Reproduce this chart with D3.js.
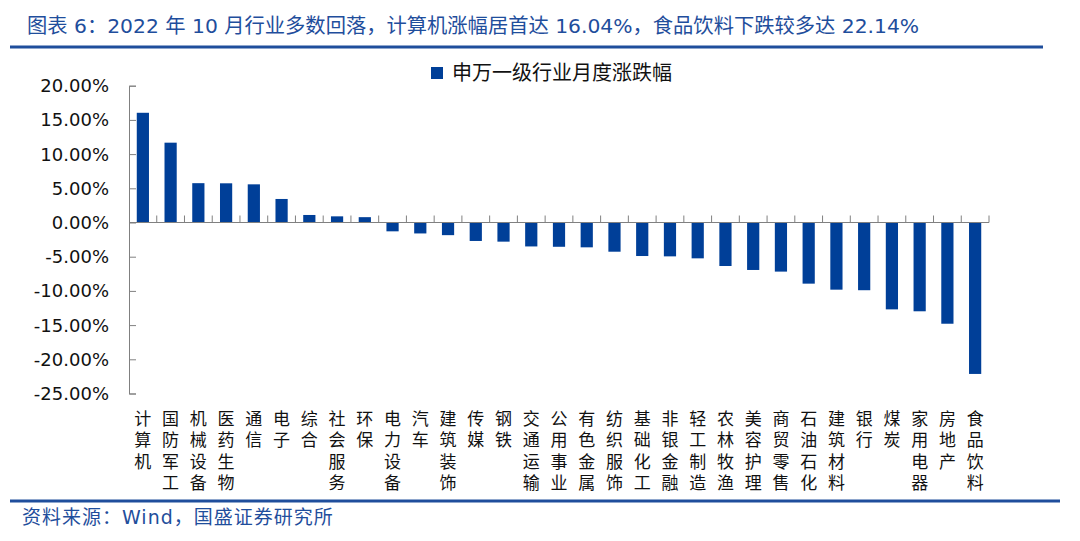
<!DOCTYPE html>
<html>
<head>
<meta charset="utf-8">
<script src="https://cdn.jsdelivr.net/npm/d3@7"></script>
<style>
  body { margin: 0; background: #fff; }
  svg { display: block; }
</style>
</head>
<body>
<div id="chart"></div>
<script>
// data
var categories = ["计算机", "国防军工", "机械设备", "医药生物", "通信", "电子", "综合", "社会服务", "环保",
  "电力设备", "汽车", "建筑装饰", "传媒", "钢铁", "交通运输", "公用事业", "有色金属", "纺织服饰",
  "基础化工", "非银金融", "轻工制造", "农林牧渔", "美容护理", "商贸零售", "石油石化", "建筑材料",
  "银行", "煤炭", "家用电器", "房地产", "食品饮料"];
var monthlyChange = [16.04, 11.67, 5.75, 5.73, 5.58, 3.44, 1.10, 0.90, 0.78,
  -1.29, -1.60, -1.85, -2.70, -2.80, -3.50, -3.55, -3.63, -4.27,
  -4.90, -4.95, -5.24, -6.36, -6.94, -7.18, -8.94, -9.82,
  -9.90, -12.70, -12.98, -14.80, -22.14];
var yTicks = [20, 15, 10, 5, 0, -5, -10, -15, -20, -25];

var titleText = "图表 6：2022 年 10 月行业多数回落，计算机涨幅居首达 16.04%，食品饮料下跌较多达 22.14%";
var legendText = "申万一级行业月度涨跌幅";
var sourceText = "资料来源：Wind，国盛证券研究所";

var svgWidth = 1080;
var svgHeight = 541;
var blue = "#1f4e9c";
var barColor = "#003f98";
var cjk = "'Noto Sans CJK SC', sans-serif";
var latin = "'DejaVu Sans', Verdana, sans-serif";

var svg = d3.select("#chart")
  .append("svg")
  .attr("width", svgWidth)
  .attr("height", svgHeight);

// title + rules
svg.append("text")
  .attr("x", 27)
  .attr("y", 33)
  .attr("fill", blue)
  .attr("font-family", latin + ", " + cjk)
  .attr("font-size", "20.3px")
  .text(titleText);

svg.append("line")
  .attr("x1", 10).attr("x2", 1043)
  .attr("y1", 47).attr("y2", 47)
  .attr("stroke", blue).attr("stroke-width", 3);

svg.append("line")
  .attr("x1", 10).attr("x2", 1060)
  .attr("y1", 501).attr("y2", 501)
  .attr("stroke", blue).attr("stroke-width", 3);

svg.append("text")
  .attr("x", 22)
  .attr("y", 524)
  .attr("fill", blue)
  .attr("font-family", latin + ", " + cjk)
  .attr("font-size", "19px")
  .attr("letter-spacing", "1px")
  .text(sourceText);

// scales
var x = d3.scaleBand()
  .domain(categories)
  .range([129, 989])
  .paddingInner(0.56)
  .paddingOuter(0.28);

var y = d3.scaleLinear()
  .domain([-25, 20])
  .range([393.5, 85.7]);

// y axis, ticks pointing into the plot
var yAxis = svg.append("g")
  .attr("transform", "translate(129,0)")
  .call(d3.axisRight(y).tickValues(yTicks).tickSize(7).tickFormat(""));
yAxis.select(".domain").attr("stroke", "#808080");
yAxis.selectAll(".tick line").attr("stroke", "#808080");

svg.append("g").selectAll("text")
  .data(yTicks)
  .enter()
  .append("text")
  .attr("x", 109)
  .attr("y", d => y(d))
  .attr("dy", "0.36em")
  .attr("text-anchor", "end")
  .attr("font-family", latin)
  .attr("font-size", "18px")
  .attr("fill", "#111")
  .text(d => d.toFixed(2) + "%");

// bars
svg.append("g").selectAll("rect")
  .data(monthlyChange)
  .enter()
  .append("rect")
  .attr("x", (d, i) => x(categories[i]))
  .attr("width", x.bandwidth())
  .attr("y", d => Math.min(y(d), y(0)))
  .attr("height", d => Math.abs(y(d) - y(0)))
  .attr("fill", barColor);

// x axis at zero with upward ticks at category boundaries
var xAxisG = svg.append("g");
xAxisG.append("line")
  .attr("x1", 129).attr("x2", 989)
  .attr("y1", y(0)).attr("y2", y(0))
  .attr("stroke", "#808080");
xAxisG.selectAll(".xt")
  .data(categories)
  .enter()
  .append("line")
  .attr("x1", d => x(d) + x.bandwidth() / 2 + x.step() / 2)
  .attr("x2", d => x(d) + x.bandwidth() / 2 + x.step() / 2)
  .attr("y1", y(0))
  .attr("y2", y(0) - 7)
  .attr("stroke", "#808080");

// vertical category labels, one char per line
svg.append("g").selectAll("text")
  .data(categories)
  .enter()
  .append("text")
  .attr("x", d => x(d) + x.bandwidth() / 2)
  .attr("y", 410)
  .attr("font-family", cjk)
  .attr("font-size", "17px")
  .attr("fill", "#111")
  .style("writing-mode", "vertical-rl")
  .style("text-orientation", "upright")
  .attr("letter-spacing", "4.5px")
  .text(d => d);

// legend
svg.append("rect")
  .attr("x", 431).attr("y", 67)
  .attr("width", 12).attr("height", 12)
  .attr("fill", barColor);
svg.append("text")
  .attr("x", 452)
  .attr("y", 73)
  .attr("dy", "0.35em")
  .attr("font-family", cjk)
  .attr("font-size", "20px")
  .attr("fill", "#111")
  .text(legendText);
</script>
</body>
</html>
